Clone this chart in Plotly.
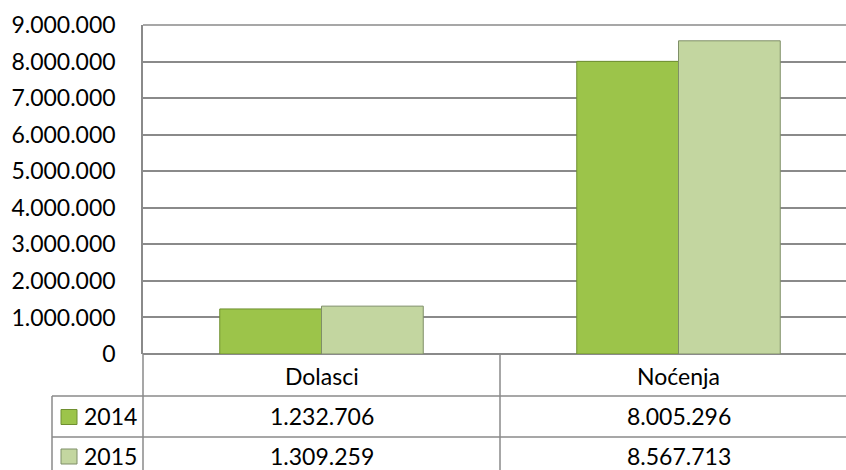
import plotly.graph_objects as go

categories = ["Dolasci", "Noćenja"]
series_names = ["2014", "2015"]
values_2014 = [1232706, 8005296]
values_2015 = [1309259, 8567713]
y_ticks = [0, 1000000, 2000000, 3000000, 4000000, 5000000, 6000000, 7000000, 8000000, 9000000]

W, H = 846, 470
L, T, B_PIX = 143, 25, 354
plot_h = B_PIX - T
plot_w = W - L

def py(pix):
    return (B_PIX - pix) / plot_h

def px(pix):
    return (pix - L) / plot_w

def fmt(v):
    return f"{v:,}".replace(",", ".")

colors = ["#9cc44a", "#c3d6a0"]
edge = ["#6f8f30", "#7f8f68"]
series = [values_2014, values_2015]

fig = go.Figure()
for name, vals, c, e in zip(series_names, series, colors, edge):
    fig.add_trace(go.Bar(x=categories, y=vals, name=name,
                         marker=dict(color=c, line=dict(color=e, width=1))))

FONT = "Lato"
FS = 23
grid = "#8a8a8a"

fig.update_layout(
    width=W, height=H,
    margin=dict(l=L, r=0, t=T, b=H - B_PIX, pad=0),
    paper_bgcolor="white", plot_bgcolor="white",
    barmode="group", bargap=0.43, bargroupgap=0,
    showlegend=False,
    separators=",.",
    font=dict(family=FONT, size=FS, color="#000000"),
)
cat_w = 357
fig.update_xaxes(range=[-0.5, -0.5 + plot_w / cat_w], showticklabels=False,
                 showgrid=False, zeroline=False, showline=False, ticks="")
fig.update_yaxes(range=[0, 9000000], tickvals=y_ticks, tickformat=",d",
                 showgrid=True, gridcolor=grid, gridwidth=1.5,
                 zeroline=True, zerolinecolor=grid, zerolinewidth=1.5,
                 showline=True, linecolor=grid, linewidth=1.5,
                 ticks="outside", ticklen=21, tickcolor="rgba(0,0,0,0)",
                 tickfont=dict(family=FONT, size=FS, color="#000000"))

shapes = []
ln = dict(color=grid, width=1.5)
shapes.append(dict(type="line", xref="paper", yref="paper", x0=0, x1=1, y0=1, y1=1, line=ln))
shapes.append(dict(type="line", xref="paper", yref="paper", x0=0, x1=0, y0=0, y1=py(480), line=ln))
shapes.append(dict(type="line", xref="x", yref="paper", x0=0.5, x1=0.5, y0=0, y1=py(480), line=ln))
shapes.append(dict(type="line", xref="paper", yref="paper", x0=px(52), x1=px(52), y0=py(396), y1=py(480), line=ln))
for yy in [396, 437]:
    shapes.append(dict(type="line", xref="paper", yref="paper", x0=px(52), x1=1, y0=py(yy), y1=py(yy), line=ln))

annotations = []
for c in categories:
    annotations.append(dict(x=c, xref="x", y=py(376), yref="paper", text=c, showarrow=False,
                            font=dict(family=FONT, size=FS, color="#000"), xanchor="center", yanchor="middle"))
row_centers = [416.5, 456]
for name, vals, col, e, yc in zip(series_names, series, colors, edge, row_centers):
    shapes.append(dict(type="rect", xref="paper", yref="paper",
                       x0=px(61), x1=px(77), y0=py(yc - 7), y1=py(yc + 8),
                       fillcolor=col, line=dict(color=e, width=1)))
    annotations.append(dict(x=px(82), xref="paper", y=py(yc), yref="paper", text=name, showarrow=False,
                            font=dict(family=FONT, size=FS, color="#000"), xanchor="left", yanchor="middle"))
    for c, v in zip(categories, vals):
        annotations.append(dict(x=c, xref="x", y=py(yc), yref="paper", text=fmt(v), showarrow=False,
                                font=dict(family=FONT, size=FS, color="#000"), xanchor="center", yanchor="middle"))

fig.update_layout(shapes=shapes, annotations=annotations)
fig.write_html("out.html", config={"displayModeBar": False},
               post_script="document.body.style.margin='0';document.body.style.overflow='hidden';")
